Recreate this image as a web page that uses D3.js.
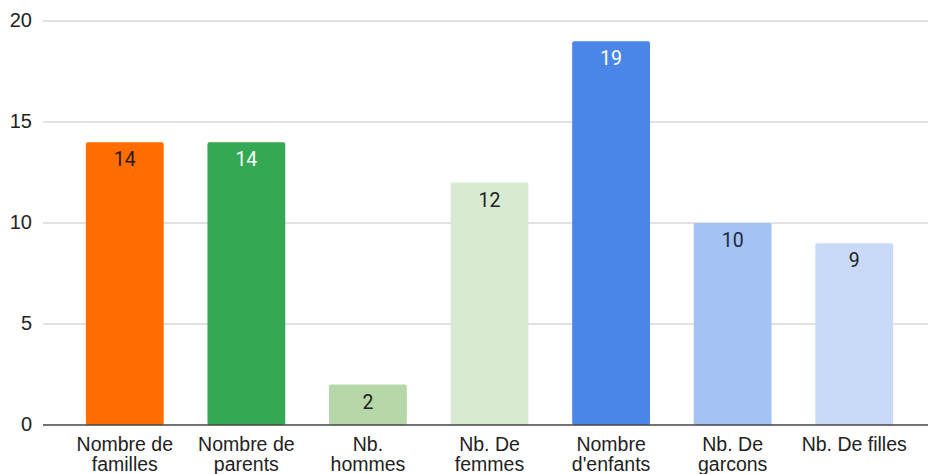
<!DOCTYPE html>
<html>
<head>
<meta charset="utf-8">
<script src="https://cdn.jsdelivr.net/npm/d3@7"></script>
<style>
  html, body { margin: 0; padding: 0; background: #fff; }
  svg { display: block; }
</style>
</head>
<body>
<div id="chart"></div>
<script>
// data
var categories = [
  ["Nombre de", "familles"],
  ["Nombre de", "parents"],
  ["Nb.", "hommes"],
  ["Nb. De", "femmes"],
  ["Nombre", "d'enfants"],
  ["Nb. De", "garcons"],
  ["Nb. De filles"]
];
var values = [14, 14, 2, 12, 19, 10, 9];
var barColors = ["#ff6d01", "#34a853", "#b6d7a8", "#d9ead3", "#4a86e8", "#a4c2f4", "#c9daf8"];
var labelColors = ["#2a1a10", "#fff", "#222", "#222", "#fff", "#1f2a3a", "#222"];
var yTicks = [0, 5, 10, 15, 20];

var width = 931, height = 474;
var margin = {left: 43, right: 3, top: 21, bottom: 49};

var svg = d3.select("#chart").append("svg")
    .attr("width", width)
    .attr("height", height);

var x = d3.scaleBand()
    .domain(d3.range(values.length))
    .range([64, 915])
    .paddingInner(0.36)
    .paddingOuter(0.18);

var y = d3.scaleLinear()
    .domain([0, 20])
    .range([height - margin.bottom, margin.top]);

// gridlines
svg.append("g")
    .selectAll("line")
    .data(yTicks.filter(d => d > 0))
    .enter().append("line")
    .attr("x1", margin.left)
    .attr("x2", width - margin.right)
    .attr("y1", d => y(d))
    .attr("y2", d => y(d))
    .attr("stroke", "#d9d9d9")
    .attr("stroke-width", 1.5);

// y tick labels
svg.append("g")
    .selectAll("text")
    .data(yTicks)
    .enter().append("text")
    .attr("x", 32)
    .attr("y", d => y(d) + 6)
    .attr("text-anchor", "end")
    .style("font-family", "'Liberation Sans', Arial, sans-serif")
    .style("font-size", "20px")
    .attr("fill", "#222")
    .text(d => d);

// bars
svg.append("g")
    .selectAll("rect")
    .data(values)
    .enter().append("rect")
    .attr("x", (d, i) => x(i))
    .attr("y", d => y(d))
    .attr("width", x.bandwidth())
    .attr("height", d => y(0) - y(d))
    .attr("rx", 2)
    .attr("fill", (d, i) => barColors[i]);

// baseline
svg.append("line")
    .attr("x1", margin.left)
    .attr("x2", width - margin.right)
    .attr("y1", y(0))
    .attr("y2", y(0))
    .attr("stroke", "#444")
    .attr("stroke-width", 1.5);

// value labels
svg.append("g")
    .selectAll("text")
    .data(values)
    .enter().append("text")
    .attr("x", (d, i) => x(i) + x.bandwidth() / 2)
    .attr("y", d => y(d) + 24)
    .attr("text-anchor", "middle")
    .style("font-family", "Roboto, sans-serif")
    .style("font-size", "19.5px")
    .attr("fill", (d, i) => labelColors[i])
    .text(d => d);

// category labels
var cat = svg.append("g")
    .selectAll("text")
    .data(categories)
    .enter().append("text")
    .attr("x", (d, i) => x(i) + x.bandwidth() / 2)
    .attr("y", 451)
    .attr("text-anchor", "middle")
    .style("font-family", "'Liberation Sans', Arial, sans-serif")
    .style("font-size", "19.5px")
    .attr("fill", "#222");

cat.selectAll("tspan")
    .data(d => d)
    .enter().append("tspan")
    .attr("x", function() { return d3.select(this.parentNode).attr("x"); })
    .attr("dy", (d, i) => i === 0 ? 0 : 20)
    .text(d => d);
</script>
</body>
</html>
